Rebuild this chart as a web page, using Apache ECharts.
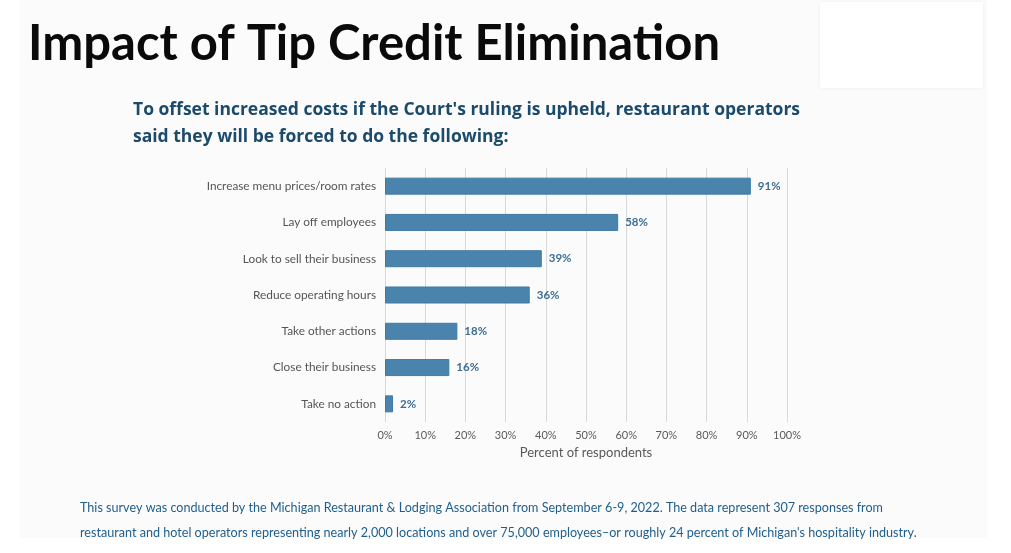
<!DOCTYPE html>
<html>
<head>
<meta charset="utf-8">
<script src="https://cdn.jsdelivr.net/npm/echarts@6/dist/echarts.min.js"></script>
<style>
html,body{margin:0;padding:0;background:#ffffff;}
#chart{width:1011px;height:553px;}
</style>
</head>
<body>
<div id="chart"></div>
<script>
const categories = [
  "Increase menu prices/room rates",
  "Lay off employees",
  "Look to sell their business",
  "Reduce operating hours",
  "Take other actions",
  "Close their business",
  "Take no action"
];
const values = [91, 58, 39, 36, 18, 16, 2];
const mainTitle = "Impact of Tip Credit Elimination";
const subTitle = "To offset increased costs if the Court's ruling is upheld, restaurant operators\nsaid they will be forced to do the following:";
const footLine1 = "This survey was conducted by the Michigan Restaurant & Lodging Association from September 6-9, 2022. The data represent 307 responses from";
const footLine2 = "restaurant and hotel operators representing nearly 2,000 locations and over 75,000 employees\u2013or roughly 24 percent of Michigan's hospitality industry.";
const axisName = "Percent of respondents";

const chart = echarts.init(document.getElementById('chart'), null, {renderer: 'canvas'});
const option = {
  backgroundColor: '#ffffff',
  animation: false,
  graphic: [
    {type: 'rect', left: 20, top: 0, shape: {width: 967, height: 538}, style: {fill: '#fbfbfc'}, z: -10},
    {type: 'rect', left: 820, top: 2, shape: {width: 163, height: 86}, style: {fill: '#ffffff', shadowBlur: 4, shadowColor: 'rgba(0,0,0,0.06)'}, z: -9},
    {type: 'text', left: 28, top: 20, style: {text: mainTitle, font: 'bold 49px Lato', fill: '#0a0a0a'}},
    {type: 'text', left: 133, top: 97, style: {text: subTitle, font: 'bold 17.5px "Open Sans"', fill: '#1b4a6b', lineHeight: 27}},
    {type: 'text', left: 80, top: 501, style: {text: footLine1, font: '12.6px Lato', fill: '#1f5e8c'}},
    {type: 'text', left: 80, top: 526, style: {text: footLine2, font: '12.6px Lato', fill: '#1f5e8c'}}
  ],
  grid: {left: 385, right: 224, top: 168, bottom: 131, containLabel: false},
  xAxis: {
    type: 'value', min: 0, max: 100, interval: 10,
    axisLine: {show: false}, axisTick: {show: false},
    splitLine: {show: true, lineStyle: {color: '#d9d9d9', width: 1}},
    axisLabel: {formatter: '{value}%', fontFamily: 'Lato', fontSize: 11, color: '#595959', margin: 8},
    name: axisName, nameLocation: 'middle', nameGap: 24,
    nameTextStyle: {fontFamily: 'Lato', fontSize: 13, color: '#595959'}
  },
  yAxis: {
    type: 'category', data: categories, inverse: true,
    axisLine: {show: false}, axisTick: {show: false},
    axisLabel: {fontFamily: 'Lato', fontSize: 11.8, color: '#555555', margin: 9}
  },
  series: [{
    type: 'bar', data: values, barWidth: 17,
    itemStyle: {color: '#4a84ad', borderColor: '#3f7aa4', borderWidth: 1},
    label: {show: true, position: 'right', distance: 7, formatter: '{c}%', fontFamily: 'Lato', fontWeight: 'bold', fontSize: 11.5, color: '#3c6e94'}
  }]
};
chart.setOption(option);
</script>
</body>
</html>
